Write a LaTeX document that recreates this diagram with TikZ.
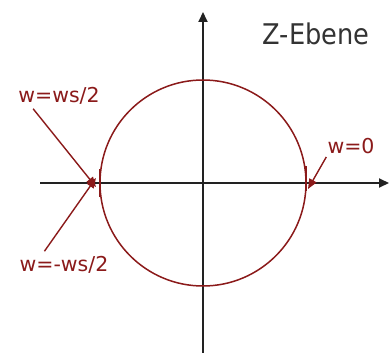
\documentclass[tikz,border=0pt]{standalone}
\usepackage{fontspec}
\setmainfont{DejaVu Sans}
\usetikzlibrary{arrows.meta}
\definecolor{darkred}{RGB}{139,26,26}
\definecolor{axisgray}{RGB}{34,34,34}
\definecolor{textgray}{RGB}{51,51,51}
\tikzset{
  axis/.style={draw=axisgray, line width=2pt, -{Triangle[length=10pt,width=9pt]}},
  unitcircle/.style={draw=darkred, line width=1.5pt},
  lbl/.style={text=darkred, font=\fontsize{20.5}{20.5}\selectfont, inner sep=0pt},
  pointer/.style={draw=darkred, line width=1.4pt, -{Triangle[length=10pt,width=8pt]}},
  tick/.style={draw=darkred, line width=1.8pt}
}
\begin{document}
\begin{tikzpicture}[x=1pt,y=-1pt]
\useasboundingbox (0,0) rectangle (391,353);
\fill[white] (0,0) rectangle (391,353);
\coordinate (O) at (203,183);
\coordinate (xs) at (40,183);
\coordinate (xe) at (389,183);
\coordinate (ys) at (203,353);
\coordinate (ye) at (203,12);
\draw[axis] (xs) -- (xe);
\draw[axis] (ys) -- (ye);
\draw[unitcircle] (O) circle[radius=103];
\coordinate (L) at (100,183);
\coordinate (R) at (306,183);
\draw[tick] ([yshift=-14]L) -- ([yshift=14]L);
\draw[tick] ([yshift=-8]R) -- ([yshift=17]R);
\node[text=textgray, font=\fontsize{28.5}{28.5}\selectfont, inner sep=0pt, xscale=0.9] (zeb) at (316,34) {Z-Ebene};
\node[lbl] (wp) at (59,96) {w=ws/2};
\node[lbl] (wm) at (64,265) {w=-ws/2};
\node[lbl] (w0) at (351,146) {w=0};
\draw[pointer] ([xshift=15,yshift=-4]wp.south west) -- ([xshift=-4,yshift=-4]L);
\draw[pointer] ([xshift=25,yshift=5]wm.north west) -- ([xshift=-4,yshift=5]L);
\draw[pointer] ([xshift=-1,yshift=-3]w0.south west) -- ([xshift=2,yshift=-6]R);
\end{tikzpicture}
\end{document}
